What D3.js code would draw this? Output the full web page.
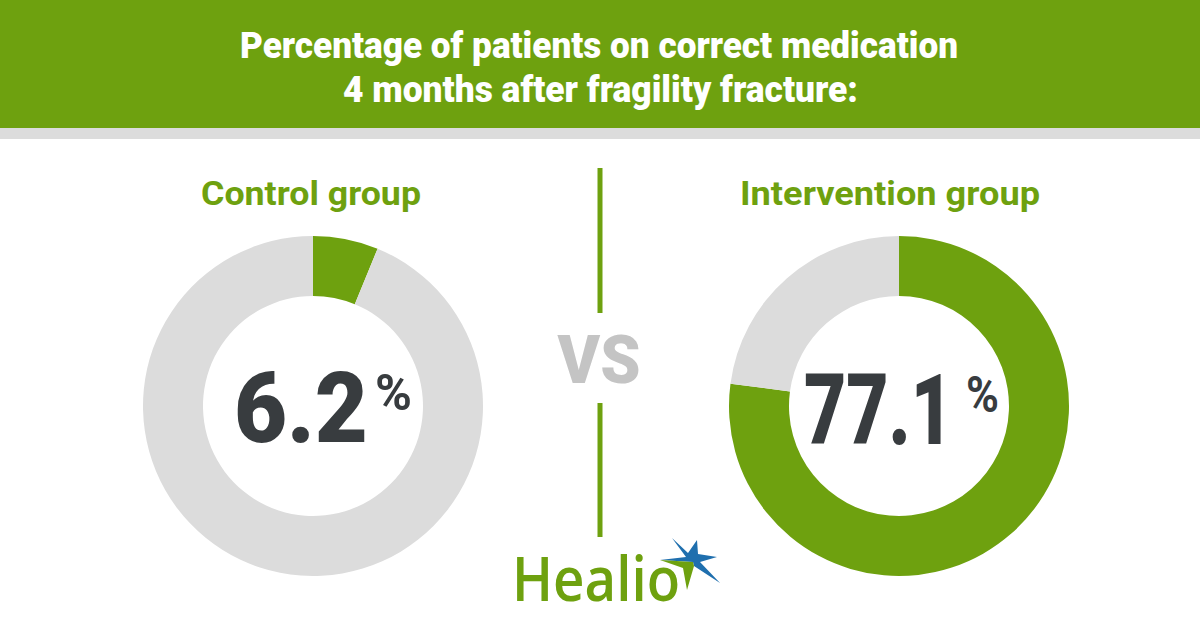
<!DOCTYPE html>
<html><head><meta charset="utf-8">
<script src="https://cdn.jsdelivr.net/npm/d3@7"></script>
<style>html,body{margin:0;padding:0;background:#fff;}svg{display:block;}</style>
</head><body>
<svg id="c" width="1200" height="630"></svg>
<script>
const titleLines = ["Percentage of patients on correct medication", "4 months after fragility fracture:"];
const groups = ["Control group", "Intervention group"];
const values = [6.2, 77.1];
const valueLabels = ["6.2", "77.1"];
const vsLabel = "VS";
const brand = "Healio";

const GREEN = "#6ea10f", GREY = "#dcdcdc", DARK = "#383c3f";
const svg = d3.select("#c");

// header
svg.append("rect").attr("x",0).attr("y",0).attr("width",1200).attr("height",128).attr("fill",GREEN);
svg.append("rect").attr("x",0).attr("y",128).attr("width",1200).attr("height",11).attr("fill",GREY);
const tl = [{x:240,y:58,w:718},{x:343,y:102,w:515}];
svg.selectAll("text.title").data(titleLines).join("text").attr("class","title")
  .attr("x",(d,i)=>tl[i].x).attr("y",(d,i)=>tl[i].y)
  .attr("textLength",(d,i)=>tl[i].w).attr("lengthAdjust","spacingAndGlyphs")
  .attr("font-family","Roboto").attr("font-weight",900).attr("font-size",36)
  .attr("fill","#fff").text(d=>d);

// donuts
const centers = [{x:313,y:406},{x:899,y:406}];
const pie = d3.pie().sort(null).value(d=>d);
const arc = d3.arc().innerRadius(110).outerRadius(170);
values.forEach((v,i)=>{
  const g = svg.append("g").attr("transform",`translate(${centers[i].x},${centers[i].y})`);
  g.selectAll("path").data(pie([v,100-v])).join("path")
    .attr("d",arc).attr("fill",(d,j)=>j===0?GREEN:GREY);
});

// group labels
const gl = [{x:311,y:205,w:220},{x:890,y:205,w:300}];
svg.selectAll("text.grp").data(groups).join("text").attr("class","grp")
  .attr("x",(d,i)=>gl[i].x).attr("y",(d,i)=>gl[i].y).attr("text-anchor","middle")
  .attr("textLength",(d,i)=>gl[i].w).attr("lengthAdjust","spacingAndGlyphs")
  .attr("font-family","Roboto").attr("font-weight",700).attr("font-size",34)
  .attr("fill",GREEN).text(d=>d);

// value labels: number scaled horizontally to fit width, plus superscript %
function fitText(sel, x, y, w){
  const nat = sel.node().getComputedTextLength();
  sel.attr("transform",`translate(${x},${y}) scale(${w/nat},1)`);
}
const vl = [{x:234,y:442,w:134,px:375,py:410,pw:37},{x:804,y:444,w:149,px:966,py:412,pw:33}];
valueLabels.forEach((t,i)=>{
  const n = svg.append("text").attr("fill",DARK).attr("font-family","Roboto").attr("font-weight",900)
    .attr("font-size",98).text(t);
  fitText(n, vl[i].x, vl[i].y, vl[i].w);
  const p = svg.append("text").attr("fill",DARK).attr("font-family","Roboto").attr("font-weight",700)
    .attr("font-size",50).text("%");
  fitText(p, vl[i].px, vl[i].py, vl[i].pw);
});

// divider + VS
svg.append("line").attr("x1",600).attr("x2",600).attr("y1",168).attr("y2",313).attr("stroke",GREEN).attr("stroke-width",5);
svg.append("line").attr("x1",600).attr("x2",600).attr("y1",403).attr("y2",537).attr("stroke",GREEN).attr("stroke-width",5);
svg.append("text").attr("x",599).attr("y",383).attr("text-anchor","middle")
  .attr("textLength",83).attr("lengthAdjust","spacingAndGlyphs")
  .attr("font-family","Roboto").attr("font-weight",900).attr("font-size",67)
  .attr("fill","#c4c4c4").text(vsLabel);

// Healio logo
svg.append("text").attr("x",512).attr("y",601)
  .attr("textLength",168).attr("lengthAdjust","spacingAndGlyphs")
  .attr("font-family","Open Sans").attr("font-weight",600).attr("font-size",62)
  .attr("fill",GREEN).text(brand);
const sc = {x:693,y:562};
const blueStar = [[672,538],[688,553],[697,540],[698,554],[717,557],[700,562],[720,583],[694,566],[sc.x,sc.y],[660,560],[686,557]];
svg.append("path").attr("d",d3.line()(blueStar)+"Z").attr("fill","#1f6fae");
const greenStar = [[660,560],[693,562],[694,566],[687,590],[683,568]];
svg.append("path").attr("d",d3.line()(greenStar)+"Z").attr("fill",GREEN);
</script>
</body></html>
